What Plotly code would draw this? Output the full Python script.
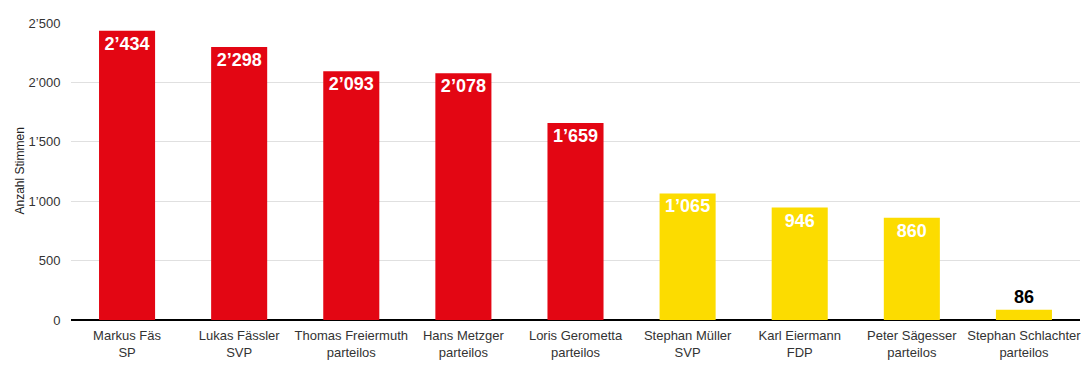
import plotly.graph_objects as go

names = ["Markus Fäs", "Lukas Fässler", "Thomas Freiermuth", "Hans Metzger", "Loris Gerometta",
         "Stephan Müller", "Karl Eiermann", "Peter Sägesser", "Stephan Schlachter"]
parties = ["SP", "SVP", "parteilos", "parteilos", "parteilos", "SVP", "FDP", "parteilos", "parteilos"]
votes = [2434, 2298, 2093, 2078, 1659, 1065, 946, 860, 86]
elected = [True, True, True, True, True, False, False, False, False]

RED = "#E30613"
YELLOW = "#FCDC00"
FONT = "Liberation Sans, Arial"

cats = [f"{n}<br>{p}" for n, p in zip(names, parties)]
colors = [RED if e else YELLOW for e in elected]
positions = ["inside" if v > 300 else "outside" for v in votes]
text_colors = ["white" if v > 300 else "black" for v in votes]

fig = go.Figure(go.Bar(
    x=cats, y=votes, marker=dict(color=colors, line=dict(width=0)),
    texttemplate="%{y:,d}", textposition=positions, insidetextanchor="end",
    textfont=dict(family=FONT, size=18, color=text_colors),
    outsidetextfont=dict(family=FONT, size=18, color="black"),
    cliponaxis=False,
))
fig.update_traces(textfont_weight="bold", outsidetextfont_weight="bold")

L, R, T, B, W, H = 71, 11, 23, 55, 1091, 375
fig.update_layout(
    width=W, height=H,
    margin=dict(l=L, r=R, t=T, b=B, autoexpand=False),
    plot_bgcolor="white", paper_bgcolor="white",
    separators=".’",
    bargap=0.5,
    showlegend=False,
    font=dict(family=FONT, size=13, color="#333333"),
    annotations=[dict(
        text="Anzahl Stimmen", textangle=-90, showarrow=False,
        xref="paper", yref="paper", x=(19 - L) / (W - L - R), y=0.5,
        xanchor="center", yanchor="middle",
        font=dict(family=FONT, size=12, color="#222222"),
    )],
)
fig.update_yaxes(range=[0, 2500], dtick=500, tickformat=",d", gridcolor="#e0e0e0",
                 zeroline=True, zerolinecolor="black", zerolinewidth=2,
                 automargin=False,
                 ticks="outside", ticklen=7, tickcolor="rgba(0,0,0,0)",
                 tickfont=dict(family=FONT, size=13, color="#333333"))
fig.update_xaxes(tickfont=dict(family=FONT, size=13, color="#333333"), showline=False,
                 automargin=False,
                 ticks="outside", ticklen=3, tickcolor="rgba(0,0,0,0)")

fig.write_html("out.html", config={"displayModeBar": False},
               post_script="document.body.style.margin='0';")
